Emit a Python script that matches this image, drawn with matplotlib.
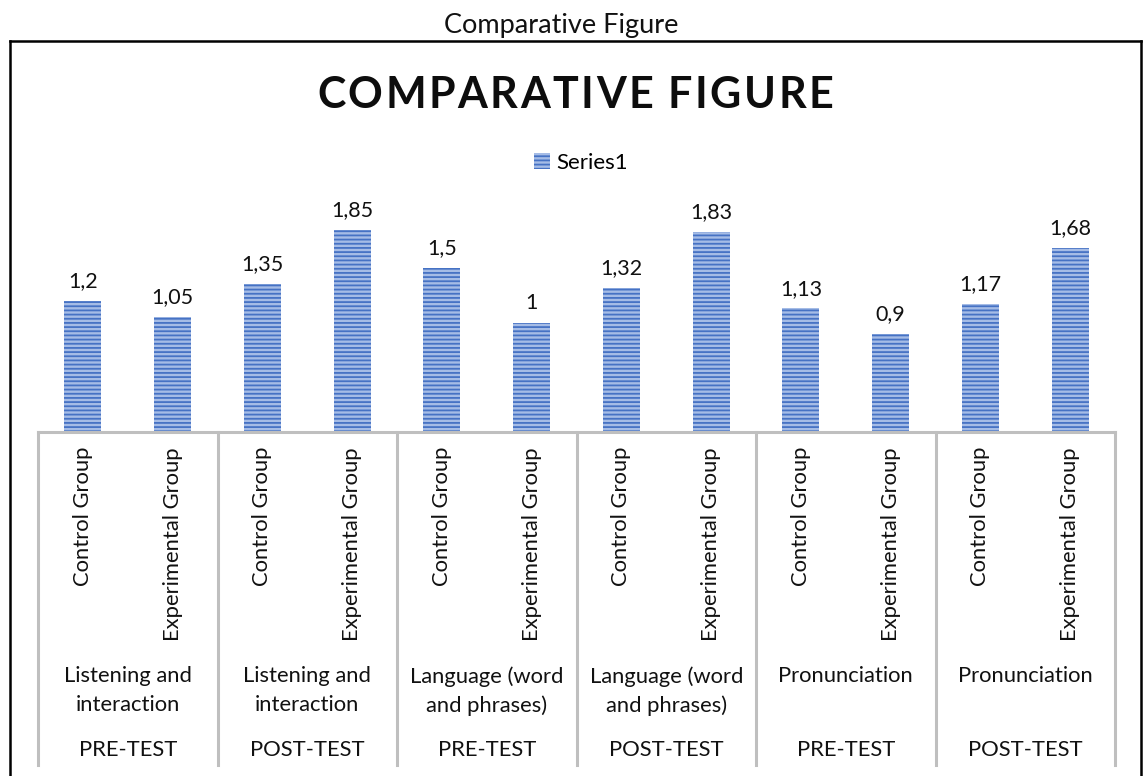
import matplotlib.pyplot as plt
import matplotlib.transforms as mtransforms
from matplotlib.lines import Line2D
from matplotlib.patches import Patch

# data
groups = ["Control Group", "Experimental Group"] * 6
skills = ["Listening and\ninteraction", "Listening and\ninteraction",
          "Language (word\nand phrases)", "Language (word\nand phrases)",
          "Pronunciation", "Pronunciation"]
tests = ["PRE-TEST", "POST-TEST"] * 3
values = [1.2, 1.05, 1.35, 1.85, 1.5, 1.0, 1.32, 1.83, 1.13, 0.9, 1.17, 1.68]

W, H = 1144, 776
plt.rcParams['font.family'] = ['Lato', 'DejaVu Sans']
plt.rcParams['hatch.linewidth'] = 1.3

fig = plt.figure(figsize=(W / 100, H / 100), dpi=100)


def fy(px):
    return 1 - px / H


def fx(px):
    return px / W


# axes: baseline at y=432 px, 1 unit ~ 109.4 px
ax_left, ax_right = 38, 1115
base = 432
unit = 109.4
ytop = 2.0
ax = fig.add_axes([fx(ax_left), fy(base), fx(ax_right - ax_left), ytop * unit / H])

x = list(range(len(values)))
bar_face = "#a5bce6"
bar_hatch = "#4672c4"
ax.bar(x, values, width=0.41, color=bar_face, edgecolor=bar_hatch,
       linewidth=0, hatch="----")
ax.set_xlim(-0.5, len(values) - 0.5)
ax.set_ylim(0, ytop)

for xi, v in zip(x, values):
    ax.annotate(f"{v:g}".replace(".", ","), (xi, v), xytext=(0, 7),
                textcoords="offset points", ha="center", va="bottom",
                fontsize=15.5, color="#111111")

for s in ["top", "right", "left"]:
    ax.spines[s].set_visible(False)
ax.spines["bottom"].set_color("#bfbfbf")
ax.spines["bottom"].set_linewidth(2.2)
ax.set_xticks([])
ax.set_yticks([])

# multi-level category axis
trans = mtransforms.blended_transform_factory(ax.transData, fig.transFigure)
for b in range(0, len(values) + 1, 2):
    ax.add_line(Line2D([b - 0.5, b - 0.5], [fy(base), fy(765)], transform=trans,
                       color="#bfbfbf", lw=2.2, clip_on=False))

for xi, g in zip(x, groups):
    ax.text(xi, fy(447), g, transform=trans, rotation=90, ha="center",
            va="top", fontsize=15.8, color="#111111")

for i, (sk, t) in enumerate(zip(skills, tests)):
    cx = 2 * i + 0.5
    ax.text(cx, fy(666), sk, transform=trans, ha="center", va="top",
            fontsize=15.8, linespacing=1.55, color="#111111")
    ax.text(cx, fy(750), t, transform=trans, ha="center", va="center",
            fontsize=15.8, color="#111111")

# titles
fig.text(fx(561), fy(26), "Comparative Figure", ha="center", va="center",
         fontsize=19.5, color="#111111")

# big chart title with letter spacing
title = "COMPARATIVE FIGURE"
renderer = fig.canvas.get_renderer()
chars = []
widths = []
for ch in title:
    t = fig.text(0, fy(108), ch, ha="left", va="baseline", fontsize=31,
                 fontweight="bold", color="#0d0d0d")
    chars.append(t)
    widths.append(t.get_window_extent(renderer).width if ch != " " else 0)
space_w = widths[0] * 0.35
widths = [w if ch != " " else space_w for w, ch in zip(widths, title)]
x0, x1 = 317, 833
gap = (x1 - x0 - sum(widths)) / (len(title) - 1)
pos = x0
for t, w in zip(chars, widths):
    t.set_x(fx(pos))
    pos += w + gap

handle = Patch(facecolor=bar_face, edgecolor=bar_hatch, linewidth=0, hatch="----")
fig.legend([handle], ["Series1"], loc="center", bbox_to_anchor=(fx(581), fy(163)),
           frameon=False, fontsize=16, handlelength=0.7, handleheight=0.7,
           handletextpad=0.3)

# chart frame
frame = dict(color="black", lw=1.8, transform=fig.transFigure)
fig.add_artist(Line2D([fx(10), fx(10)], [fy(41), 0], **frame))
fig.add_artist(Line2D([fx(10), fx(1141)], [fy(41), fy(41)], **frame))
fig.add_artist(Line2D([fx(1141), fx(1141)], [fy(41), 0], **frame))

fig.savefig("out.png", dpi=100)
